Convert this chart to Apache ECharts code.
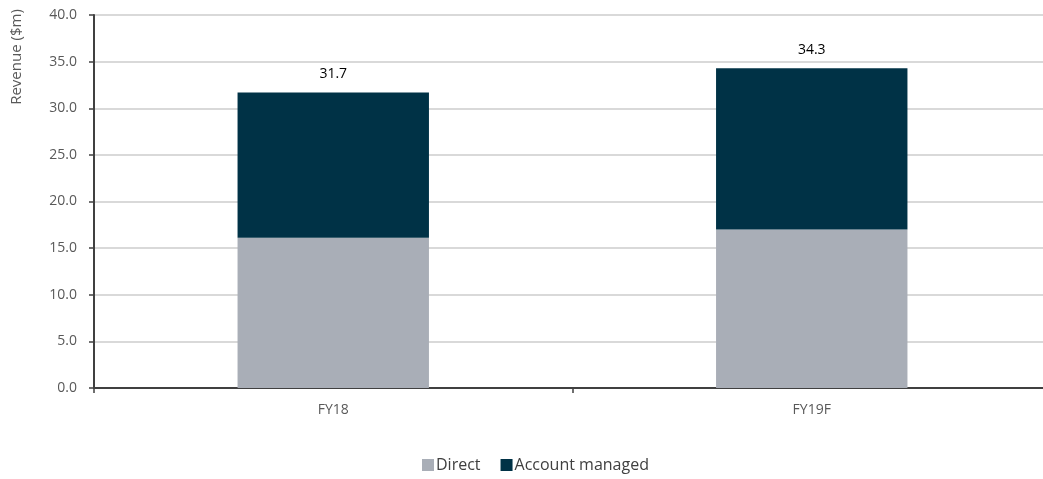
<!DOCTYPE html>
<html>
<head>
<meta charset="utf-8">
<script src="https://cdn.jsdelivr.net/npm/echarts@6/dist/echarts.min.js"></script>
<style>html,body{margin:0;padding:0;background:#fff;overflow:hidden}#c{width:1062px;height:479px}</style>
</head>
<body>
<div id="c"></div>
<script>
const categories = ['FY18', 'FY19F'];
const direct = [16.1, 17.0];
const accountManaged = [15.6, 17.3];
const totals = [31.7, 34.3];
const yTitle = 'Revenue ($m)';

const font = '"Open Sans", Lato, sans-serif';
const chart = echarts.init(document.getElementById('c'));
chart.setOption({
  animation: false,
  textStyle: { fontFamily: font },
  grid: { left: 94, top: 15, width: 957, height: 373, containLabel: false },
  graphic: [{
    type: 'text', x: 17, y: 57, rotation: Math.PI / 2,
    style: { text: yTitle, fill: '#595959', font: '15px ' + font, textAlign: 'center', textVerticalAlign: 'middle' }
  }],
  legend: {
    bottom: 1, left: 417, itemWidth: 12, itemHeight: 12, itemGap: 20,
    icon: 'rect',
    textStyle: { color: '#404040', fontSize: 16, fontFamily: font, padding: [0, 0, 0, -3] },
    data: ['Direct', 'Account managed']
  },
  xAxis: {
    type: 'category', data: categories,
    axisLine: { lineStyle: { color: '#404040', width: 2 } },
    axisTick: { show: true, length: 5, lineStyle: { color: '#404040', width: 1.5 } },
    axisLabel: { color: '#595959', fontSize: 14, margin: 15 }
  },
  yAxis: {
    type: 'value', min: 0, max: 40, interval: 5,
    axisLine: { show: true, lineStyle: { color: '#404040', width: 2 } },
    axisTick: { show: true, length: 5, lineStyle: { color: '#404040', width: 1.5 } },
    axisLabel: { color: '#595959', fontSize: 14, margin: 17, formatter: v => v.toFixed(1) },
    splitLine: { lineStyle: { color: '#d9d9d9', width: 2 } }
  },
  series: [
    { name: 'Direct', type: 'bar', stack: 't', data: direct, barWidth: '40%',
      itemStyle: { color: '#A9AEB7' } },
    { name: 'Account managed', type: 'bar', stack: 't', data: accountManaged,
      itemStyle: { color: '#003246' },
      label: { show: true, position: 'top', distance: 11, color: '#000', fontSize: 14, fontFamily: font,
        formatter: p => totals[p.dataIndex].toFixed(1) } }
  ]
});
</script>
</body>
</html>
